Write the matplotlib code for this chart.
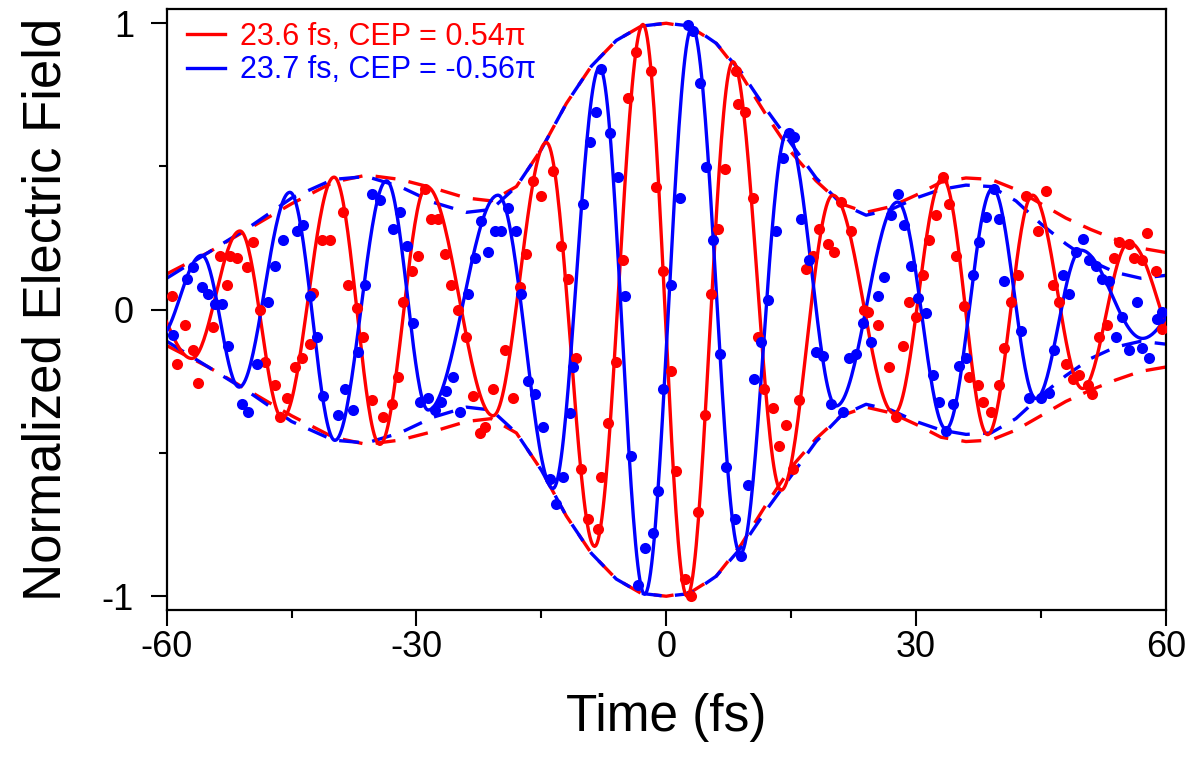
import numpy as np
import matplotlib
matplotlib.use("Agg")
import matplotlib.pyplot as plt
from matplotlib.ticker import MultipleLocator

plt.rcParams['font.family'] = ['Liberation Sans', 'DejaVu Sans']
plt.rcParams['axes.unicode_minus'] = False

# ---------------- data ----------------
labels = ["23.6 fs, CEP = 0.54\u03c0", "23.7 fs, CEP = -0.56\u03c0"]

# extrema (time in fs, normalized field) of the fitted solid curves
red_ext_t = [-63.0, -57.0, -51.2, -46.1, -39.9, -34.4, -28.8, -20.8, -14.4, -8.6, -2.8,
             2.5, 8.0, 13.8, 20.0, 27.4, 33.2, 38.6, 44.0, 50.0, 55.6, 62.8]
red_ext_v = [0.08, -0.17, 0.275, -0.378, 0.463, -0.47, 0.43, -0.37, 0.584, -0.826, 0.996,
             -1.0, 0.866, -0.63, 0.40, -0.362, 0.459, -0.436, 0.40, -0.275, 0.235, -0.20]

blue_ext_t = [-61.0, -55.8, -51.3, -45.2, -39.8, -33.6, -28.6, -20.2, -13.6, -8.0, -2.6,
              3.1, 8.9, 14.5, 20.4, 27.8, 33.6, 39.2, 44.4, 49.8, 57.2, 63.0]
blue_ext_v = [-0.10, 0.19, -0.27, 0.41, -0.456, 0.45, -0.35, 0.40, -0.624, 0.846, -0.993,
              0.987, -0.852, 0.617, -0.336, 0.376, -0.416, 0.423, -0.31, 0.208, -0.10, 0.05]

# envelope magnitudes (dashed curves, drawn as +/-)
env_t = [-60, -55, -50, -45, -40, -36, -32, -28, -24, -21, -18, -15, -12, -9, -6, -3, 0,
         3, 6, 9, 12, 15, 18, 21, 24, 27, 30, 33, 36, 39, 42, 45, 48, 51, 54, 57, 60]
red_env = [0.125, 0.20, 0.285, 0.37, 0.445, 0.47, 0.455, 0.425, 0.39, 0.38, 0.43, 0.56,
           0.72, 0.85, 0.94, 0.99, 1.0, 0.985, 0.93, 0.82, 0.68, 0.55, 0.45, 0.37, 0.34,
           0.36, 0.40, 0.445, 0.46, 0.455, 0.42, 0.37, 0.32, 0.28, 0.245, 0.215, 0.20]
blue_env = [0.11, 0.20, 0.29, 0.39, 0.455, 0.465, 0.43, 0.375, 0.34, 0.35, 0.43, 0.56,
            0.72, 0.85, 0.94, 0.99, 1.0, 0.99, 0.93, 0.83, 0.70, 0.58, 0.46, 0.37, 0.33,
            0.35, 0.39, 0.42, 0.435, 0.43, 0.38, 0.30, 0.23, 0.17, 0.13, 0.11, 0.12]

# measured points
red_dot_t = [-59.4, -58.8, -57.8, -56.8, -56.2, -54.4, -53.6, -52.8, -52.4, -51.6, -50.4, -49.6,
             -48.8, -48.2, -47.0, -46.4, -45.6, -44.6, -43.8, -42.8, -42.4, -41.4, -40.4,
             -38.8, -38.2, -37.2, -36.4, -35.4, -34.0, -33.0, -32.2, -31.6, -30.6, -29.8, -29.0,
             -28.2, -27.4, -26.6, -25.8, -25.0, -24.0, -23.2, -22.4, -21.8, -20.8, -19.4,
             -18.4, -17.6, -16.8, -16.0, -15.0, -13.6, -12.6, -11.8, -10.8, -10.2, -9.4, -8.2,
             -7.8, -7.0, -6.0, -5.2, -4.6, -3.6, -1.8, -1.2, -0.4, 0.6,
             1.2, 2.2, 3.0, 3.8, 4.6, 5.4, 6.2, 7.0, 8.4, 8.6, 9.4, 10.4, 11.0, 11.8, 12.8, 13.6,
             14.4, 15.2, 16.0, 16.8, 17.6, 18.4, 19.4, 20.2,
             21.0, 22.2, 23.8, 24.2, 25.4, 26.8, 27.6, 28.4, 29.2, 30.0, 30.8, 31.6, 32.4, 33.2,
             34.0, 34.8, 35.8, 36.4, 37.4, 38.0, 39.0, 40.0, 40.6,
             41.4, 42.2, 43.2, 44.6, 45.6, 46.4, 47.2, 48.0, 48.8, 49.6, 50.6, 51.2, 52.0, 53.0,
             53.8, 54.4, 55.6, 56.2, 57.2, 57.8, 58.8, 59.6]
red_dot_v = [0.047, -0.188, -0.054, -0.141, -0.255, -0.060, 0.188, 0.087, 0.188, 0.181, 0.148,
             0.235, 0.0, -0.181, -0.262, -0.376, -0.309, -0.201, -0.168, -0.121, 0.060, 0.242,
             0.242,
             0.342, 0.087, 0.007, -0.094, -0.315, -0.376, -0.329, -0.235, 0.027, 0.134, 0.188,
             0.423, 0.315, 0.315, 0.195, 0.087, 0.0, -0.094, -0.302, -0.430, -0.409, -0.275,
             -0.141,
             -0.309, 0.081, 0.195, 0.450, 0.396, 0.483, 0.221, 0.107, -0.168, -0.557, -0.732,
             -0.765, -0.584, -0.396, -0.181, 0.174, 0.738, 0.899, 0.832, 0.430, 0.134, -0.215,
             -0.564, -0.940, -1.0, -0.705, -0.369, 0.054, 0.282, 0.490, 0.832, 0.718, 0.691,
             0.389, -0.094, -0.275, -0.342, -0.477, -0.403, -0.557, -0.315, 0.141, 0.188, 0.282,
             0.228, 0.201,
             0.376, 0.275, 0.0, -0.007, -0.054, -0.201, -0.376, -0.128, 0.027, -0.027, 0.121,
             0.242, 0.329, 0.463, 0.369, 0.188, 0.013, -0.235, -0.262, -0.322, -0.356, -0.262,
             -0.134,
             0.027, 0.121, 0.396, 0.275, 0.416, 0.087, 0.027, -0.188, -0.242, -0.228, -0.262,
             -0.295, -0.094, -0.054, 0.181, 0.235, 0.228, 0.181, 0.174, 0.268, 0.134, -0.067]

blue_dot_t = [-59.2, -57.6, -56.8, -55.8, -55.0, -54.2, -53.4, -52.6, -51.0, -50.2, -49.2, -47.8,
              -47.0, -46.0, -44.4, -43.6, -42.8, -42.0, -41.2,
              -39.4, -38.6, -37.6, -37.0, -36.2, -35.4, -34.4, -32.8, -32.0, -31.2, -30.4, -29.6,
              -28.6, -27.8, -27.0, -26.4, -25.6, -24.8, -23.8, -23.0, -22.2, -21.4, -20.6, -19.8,
              -19.0, -18.0, -17.4, -16.6, -15.8, -14.8, -14.0, -13.2, -12.4, -11.6, -11.2, -10.0,
              -9.2, -8.4, -7.8, -6.8, -5.8, -5.0, -4.2, -3.4, -2.6, -1.6, -1.0, -0.4, 0.6,
              1.6, 2.6, 3.2, 4.0, 4.8, 5.6, 6.4, 7.2, 8.2, 9.0, 9.8, 10.6, 11.4, 12.2, 13.2, 14.0,
              14.8, 15.4, 16.2, 17.2, 18.0, 18.8, 19.8,
              21.2, 22.0, 22.8, 23.6, 24.6, 25.4, 26.2, 27.0, 27.8, 28.6, 29.4, 30.2, 31.2, 32.0,
              32.8, 33.6, 34.4, 35.2, 36.0, 36.8, 37.6, 38.4, 39.4, 40.0, 40.6,
              42.6, 43.6, 45.0, 46.0, 46.6, 47.6, 48.4, 49.2, 50.0, 50.8, 51.6, 52.4, 53.2, 54.0,
              54.8, 55.6, 56.6, 57.2, 58.0, 59.0, 59.6]
blue_dot_v = [-0.087, 0.107, 0.148, 0.081, 0.054, 0.020, 0.020, -0.128, -0.329, -0.356, -0.188,
              0.027, 0.154, 0.242, 0.275, 0.295, 0.047, -0.094, -0.302,
              -0.369, -0.275, -0.349, -0.148, 0.087, 0.403, 0.383, 0.282, 0.342, 0.221, -0.047,
              -0.322, -0.309, -0.349, -0.322, -0.282, -0.235, -0.356, 0.054, 0.181, 0.309, 0.201,
              0.275, 0.275,
              0.356, 0.275, 0.054, -0.248, -0.295, -0.409, -0.591, -0.678, -0.584, -0.362, -0.201,
              0.369, 0.584, 0.691, 0.839, 0.617, 0.463, 0.047, -0.510, -0.96, -0.832, -0.779,
              -0.631, -0.275, 0.087,
              0.389, 0.993, 0.973, 0.792, 0.497, 0.242, -0.154, -0.550, -0.732, -0.859, -0.611,
              -0.242, -0.114, 0.034, 0.275, 0.530, 0.617, 0.604, 0.315, 0.174, -0.148, -0.161,
              -0.329,
              -0.356, -0.168, -0.154, -0.047, -0.114, 0.047, 0.114, 0.329, 0.403, 0.295, 0.154,
              0.040, -0.013, -0.228, -0.322, -0.423, -0.329, -0.195, -0.168, 0.121, 0.235, 0.322,
              0.423, 0.315, 0.101,
              -0.074, -0.309, -0.309, -0.289, -0.141, 0.121, 0.054, 0.201, 0.248, 0.174, 0.154,
              0.107, 0.101, -0.094, -0.027, -0.141, 0.027, -0.134, -0.168, -0.034, -0.007]

RED = "#ff0000"
BLUE = "#0000ff"


def extrema_path(ext_t, ext_v, n_per_seg=40):
    """Smooth path joining consecutive read extrema with half-cosine arcs."""
    ts, vs = [], []
    for i in range(len(ext_t) - 1):
        ta, tb = ext_t[i], ext_t[i + 1]
        a, b = ext_v[i], ext_v[i + 1]
        f = np.linspace(0, 1, n_per_seg, endpoint=False)
        ts.append(ta + (tb - ta) * f)
        vs.append(b + (a - b) * (1 + np.cos(np.pi * f)) / 2)
    ts.append([ext_t[-1]])
    vs.append([ext_v[-1]])
    return np.concatenate(ts), np.concatenate(vs)


fig = plt.figure(figsize=(11.97, 7.59), dpi=100)
ax = fig.add_axes([0.1393, 0.1963, 0.9739 - 0.1393, 0.9875 - 0.1963])

lw = 2.4
rt, rv = extrema_path(red_ext_t, red_ext_v)
bt, bv = extrema_path(blue_ext_t, blue_ext_v)
ax.plot(rt, rv, color=RED, lw=lw, label=labels[0], zorder=3)
ax.plot(bt, bv, color=BLUE, lw=lw, label=labels[1], zorder=3)

et = np.array(env_t)
re = np.array(red_env)
be = np.array(blue_env)
for sign in (1, -1):
    ax.plot(et, sign * re, color=RED, lw=lw, dashes=(6, 4), zorder=2)
    ax.plot(et, sign * be, color=BLUE, lw=lw, dashes=(6, 4), zorder=2)

ax.plot(red_dot_t, red_dot_v, 'o', color=RED, ms=8, mec='none', zorder=4)
ax.plot(blue_dot_t, blue_dot_v, 'o', color=BLUE, ms=8, mec='none', zorder=4)

ax.set_xlim(-60, 60)
ax.set_ylim(-1.048, 1.048)
ax.set_xticks([-60, -30, 0, 30, 60])
ax.set_yticks([-1, 0, 1])
ax.xaxis.set_minor_locator(MultipleLocator(15))
ax.yaxis.set_minor_locator(MultipleLocator(0.5))
ax.tick_params(which='major', direction='out', length=11.5, width=1.5, labelsize=26)
ax.tick_params(which='minor', direction='out', length=6, width=1.5)
ax.tick_params(axis='y', which='major', pad=12)
ax.tick_params(axis='x', which='major', pad=3)
for s in ax.spines.values():
    s.set_linewidth(1.6)

ax.set_xlabel("Time (fs)", fontsize=37, labelpad=20)
ax.set_ylabel("Normalized Electric Field", fontsize=38, labelpad=22)

leg = ax.legend(loc='upper left', frameon=False, fontsize=22, handlelength=1.25,
                handletextpad=0.5, labelspacing=0.12, borderaxespad=0.0,
                bbox_to_anchor=(0.008, 1.0), labelcolor='linecolor')

fig.savefig("out.png", dpi=100)
